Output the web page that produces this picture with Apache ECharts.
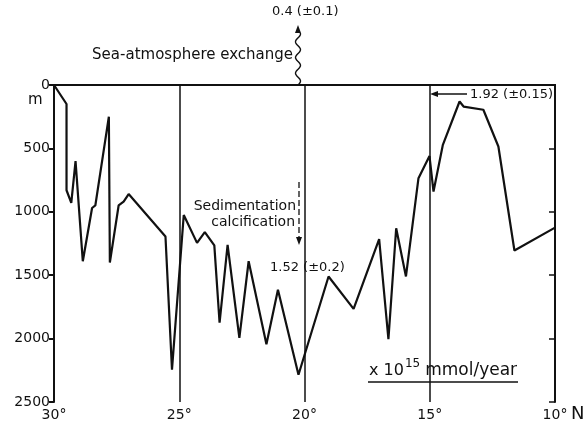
<!DOCTYPE html>
<html>
<head>
<meta charset="utf-8">
<script src="https://cdn.jsdelivr.net/npm/echarts@6/dist/echarts.min.js"></script>
<style>
  html, body { margin: 0; padding: 0; background: #fff; }
  #main { width: 587px; height: 427px; }
</style>
</head>
<body>
<div id="main"></div>
<script>
// latitude (deg N) and depth (m)
var latitude = [30, 29.5, 29.5, 29.31, 29.14, 28.85, 28.48, 28.35, 27.81, 27.77, 27.42, 27.22, 27.02,
    25.55, 25.29, 24.82, 24.29, 23.98, 23.6, 23.39, 23.07, 22.6, 22.23, 21.52, 21.06, 20.24,
    19.04, 18.04, 17.02, 16.65, 16.34, 15.95, 15.45, 15.01, 14.85, 14.48, 13.81, 13.65, 12.86,
    12.26, 11.62, 10];
var depth = [0, 150, 830, 930, 600, 1390, 970, 950, 250, 1400, 950, 920, 860,
    1195, 2245, 1025, 1245, 1160, 1265, 1875, 1260, 1995, 1390, 2045, 1615, 2285,
    1510, 1765, 1215, 2005, 1130, 1510, 735, 560, 840, 475, 130, 170, 195,
    485, 1305, 1125];
var depthTicks = [0, 500, 1000, 1500, 2000, 2500];
var latTicks = [30, 25, 20, 15, 10];
var sectionLines = [25, 20, 15];

var FONT = 'DejaVu Sans';
var ink = '#111';

var profile = latitude.map(function (v, i) { return [v, depth[i]]; });

var myChart = echarts.init(document.getElementById('main'));

// wavy arrow for sea-atmosphere exchange
var wave = [];
for (var y = 85; y >= 33; y -= 1) {
    wave.push([298 + 2.5 * Math.sin((85 - y) / 2.5), y]);
}

option = {
    backgroundColor: '#fff',
    animation: false,
    grid: { left: 54, right: 32, top: 85, bottom: 25 },
    xAxis: [
        {
            type: 'value', min: 10, max: 30, interval: 5, inverse: true,
            position: 'bottom',
            axisLine: { lineStyle: { color: ink, width: 2 } },
            axisTick: { show: false },
            splitLine: { show: false },
            axisLabel: {
                color: ink, fontFamily: FONT, fontSize: 14, margin: 6,
                formatter: function (v) { return latTicks.indexOf(v) >= 0 ? v + '°' : ''; }
            }
        },
        {
            type: 'value', min: 10, max: 30, inverse: true,
            position: 'top',
            axisLine: { lineStyle: { color: ink, width: 2 } },
            axisTick: { show: false },
            axisLabel: { show: false },
            splitLine: { show: false }
        }
    ],
    yAxis: [
        {
            type: 'value', min: 0, max: 2500, interval: 500, inverse: true,
            position: 'left',
            axisLine: { show: true, lineStyle: { color: ink, width: 2 } },
            axisTick: { show: true, length: 5, lineStyle: { color: ink, width: 2 } },
            splitLine: { show: false },
            axisLabel: {
                color: ink, fontFamily: FONT, fontSize: 14, margin: 4,
                formatter: function (v) { return depthTicks.indexOf(v) >= 0 ? String(v) : ''; }
            }
        },
        {
            type: 'value', min: 0, max: 2500, interval: 500, inverse: true,
            position: 'right',
            axisLine: { show: true, lineStyle: { color: ink, width: 2 } },
            axisTick: { show: true, inside: true, length: 6, lineStyle: { color: ink, width: 1.5 } },
            splitLine: { show: false },
            axisLabel: { show: false }
        }
    ],
    series: [
        {
            type: 'line',
            data: profile,
            symbol: 'none',
            lineStyle: { color: ink, width: 2.2 },
            markLine: {
                silent: true,
                symbol: 'none',
                label: { show: false },
                lineStyle: { color: ink, width: 1.5, type: 'solid' },
                data: sectionLines.map(function (v) { return { xAxis: v }; })
            }
        }
    ],
    graphic: [
        { type: 'text', left: 28, top: 93, style: { text: 'm', font: '15px ' + FONT, fill: ink } },
        { type: 'text', left: 571, top: 405, style: { text: 'N', font: '18px ' + FONT, fill: ink } },

        { type: 'text', left: 272, top: 5, style: { text: '0.4 (±0.1)', font: '13px ' + FONT, fill: ink } },
        { type: 'polyline', shape: { points: wave }, style: { stroke: ink, lineWidth: 1.4, fill: null } },
        { type: 'polygon', shape: { points: [[298, 25], [295, 33], [301, 33]] }, style: { fill: ink } },
        { type: 'text', x: 293, y: 55, style: { text: 'Sea-atmosphere exchange', font: '15px ' + FONT, fill: ink, align: 'right', verticalAlign: 'middle' } },

        { type: 'text', x: 296, y: 206, style: { text: 'Sedimentation', font: '14px ' + FONT, fill: ink, align: 'right', verticalAlign: 'middle' } },
        { type: 'text', x: 295, y: 222, style: { text: 'calcification', font: '14px ' + FONT, fill: ink, align: 'right', verticalAlign: 'middle' } },
        { type: 'line', shape: { x1: 299, y1: 182, x2: 299, y2: 238 }, style: { stroke: ink, lineWidth: 1.3, lineDash: [6, 3] } },
        { type: 'polygon', shape: { points: [[299, 245], [296, 237], [302, 237]] }, style: { fill: ink } },
        { type: 'text', x: 270, y: 268, style: { text: '1.52 (±0.2)', font: '13px ' + FONT, fill: ink, verticalAlign: 'middle' } },

        { type: 'text', x: 470, y: 95, style: { text: '1.92 (±0.15)', font: '13px ' + FONT, fill: ink, verticalAlign: 'middle' } },
        { type: 'line', shape: { x1: 436, y1: 94, x2: 467, y2: 94 }, style: { stroke: ink, lineWidth: 1.5 } },
        { type: 'polygon', shape: { points: [[430, 94], [438, 91], [438, 97]] }, style: { fill: ink } },

        {
            type: 'text', x: 369, y: 379,
            style: {
                text: '{a|x 10}{s|15}{b|mmol/year}',
                verticalAlign: 'bottom',
                rich: {
                    a: { font: '16px ' + FONT, fill: ink, verticalAlign: 'bottom' },
                    s: { font: '12px ' + FONT, fill: ink, verticalAlign: 'top', padding: [0, 5, 9, 1] },
                    b: { font: '17px ' + FONT, fill: ink, verticalAlign: 'bottom' }
                }
            }
        },
        { type: 'line', shape: { x1: 368, y1: 382, x2: 518, y2: 382 }, style: { stroke: ink, lineWidth: 1.5 } }
    ]
};
myChart.setOption(option);
</script>
</body>
</html>
